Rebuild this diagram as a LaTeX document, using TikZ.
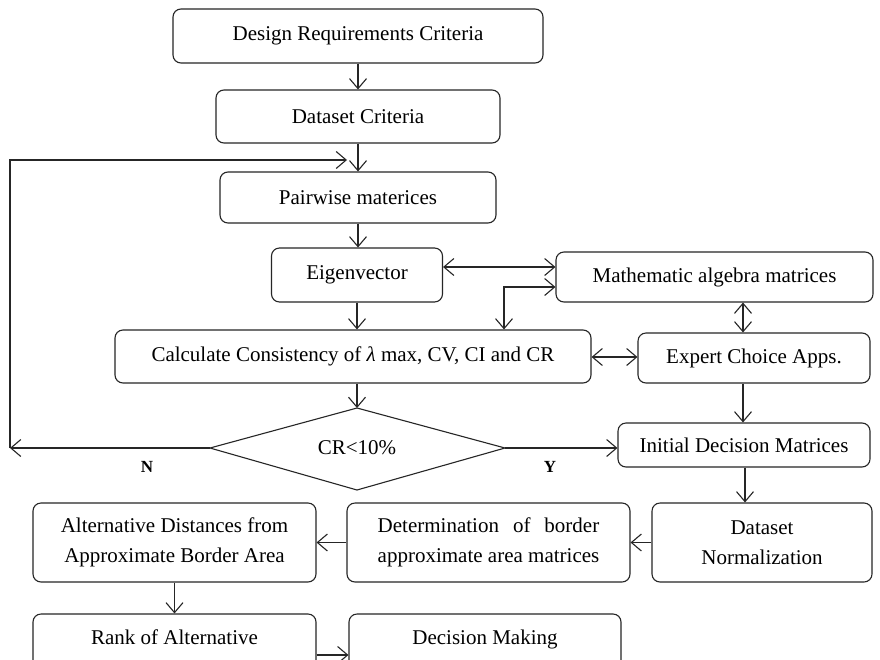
\documentclass[tikz,border=0pt]{standalone}
\usepackage{fontspec}
\setmainfont{Liberation Serif}
\usetikzlibrary{arrows.meta,calc}
\newlength{\detlen}
\tikzset{
  myb/.tip={Straight Barb[length=10pt,width=17pt,line width=1.1pt]},
  box/.style={draw=black!85, line width=1.1pt, rounded corners=8pt, inner sep=0pt, align=center,
    font=\fontsize{21}{30}\selectfont},
  arr/.style={draw=black!85, line width=1.1pt, -myb},
  darr/.style={draw=black!85, line width=1.1pt, myb-myb},
  yn/.style={font=\fontsize{17}{18}\selectfont\bfseries, inner sep=0pt},
  btxt/.style={font=\fontsize{21}{30}\selectfont, inner sep=0pt, anchor=base}
}
\begin{document}
\begin{tikzpicture}[x=1pt,y=-1pt]
\useasboundingbox (0,0) rectangle (880,659);
\fill[white] (0,0) rectangle (880,659);
\clip (0,0) rectangle (880,659);
% nodes
\node[box, minimum width=370pt, minimum height=54pt] (req) at (358,36) {Design Requirements Criteria};
\node[box, minimum width=284pt, minimum height=53pt] (data) at (358,116.5) {Dataset Criteria};
\node[box, minimum width=276pt, minimum height=51pt] (pair) at (358,197.5) {Pairwise materices};
\node[box, minimum width=171pt, minimum height=54pt] (eig) at (357,275) {Eigenvector};
\node[box, minimum width=317pt, minimum height=50pt] (math) at (714.5,277) {Mathematic algebra matrices};
\node[box, minimum width=476pt, minimum height=53pt] (calc) at (353,356.5) {Calculate Consistency of \textit{λ} max, CV, CI and CR};
\node[box, minimum width=232pt, minimum height=50pt] (exp) at (754,358) {Expert Choice Apps.};
% decision diamond
\coordinate (dt) at (357,408);
\coordinate (dr) at (505,448);
\coordinate (db) at (357,490);
\coordinate (dl) at (210,448);
\draw[black!85, line width=1.1pt] (dt) -- (dr) -- (db) -- (dl) -- cycle;
\node[font=\fontsize{21}{30}\selectfont, inner sep=0pt] (dia) at (357,448) {CR<10\%};
\node[box, minimum width=252pt, minimum height=44pt] (init) at (744,445) {Initial Decision Matrices};
\node[box, minimum width=220pt, minimum height=79pt] (norm) at (762,542.5) {Dataset\\Normalization};
\node[box, minimum width=283pt, minimum height=79pt] (det) at (488.5,542.5)
  {\settowidth{\detlen}{approximate area matrices}\makebox[\detlen][s]{Determination of border}\\approximate area matrices};
\node[box, minimum width=283pt, minimum height=79pt] (alt) at (174.5,542.5) {Alternative Distances from\\Approximate Border Area};
\node[box, minimum width=283pt, minimum height=62pt] (rank) at (174.5,645) {};
\node[box, minimum width=272pt, minimum height=62pt] (dec) at (485,645) {};
\node[btxt] (rankt) at (174.5,644) {Rank of Alternative};
\node[btxt] (dect) at (485,644) {Decision Making};
\node[yn] (nlab) at (147,467) {N};
\node[yn] (ylab) at (550,467) {Y};
% coordinates
\coordinate (em) at (0,267);
\coordinate (elb) at (504,287);
\coordinate (cy) at (0,357);
\coordinate (mx) at (743,0);
\coordinate (nx) at (745,0);
\coordinate (cor) at (10,448);
\coordinate (fb) at (347,160);
\coordinate (ry) at (0,655);
% connectors
\draw[arr] (req.south) -- (data.north);
\draw[arr] (data.south) -- (pair.north);
\draw[arr] (pair.south) -- (pair.south |- eig.north);
\draw[arr] (eig.south) -- (eig.south |- calc.north);
\draw[darr] (eig.east |- em) -- (math.west |- em);
\draw[darr] (math.west |- elb) -- (elb) -- (elb |- calc.north);
\draw[darr] (calc.east |- cy) -- (exp.west |- cy);
\draw[darr] (exp.north -| mx) -- (math.south -| mx);
\draw[arr] (exp.south -| mx) -- (init.north -| mx);
\draw[arr] (calc.south -| dt) -- (dt);
\draw[arr] (dr) -- (init.west |- dr);
\draw[arr] (dl) -- (cor);
\draw[arr] (cor) |- (fb);
\draw[arr] (init.south -| nx) -- (norm.north -| nx);
\draw[arr] (norm.west) -- (det.east);
\draw[arr] (det.west) -- (alt.east);
\draw[arr] (alt.south) -- (rank.north);
\draw[arr] (rank.east |- ry) -- (dec.west |- ry);
\end{tikzpicture}
\end{document}
